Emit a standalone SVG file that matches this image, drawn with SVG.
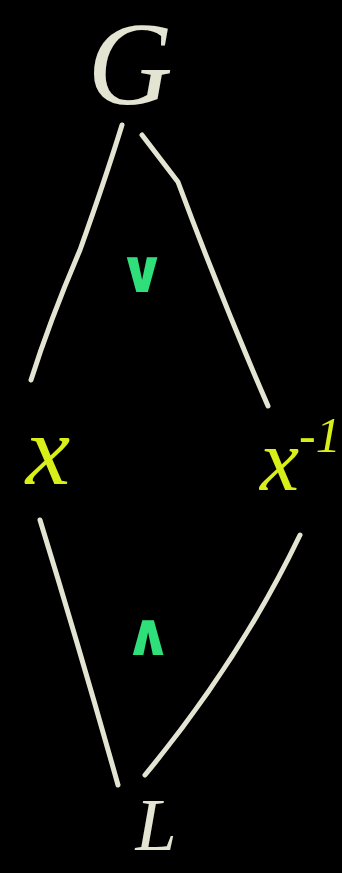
<svg xmlns="http://www.w3.org/2000/svg" width="342" height="873" viewBox="0 0 342 873">
<style>
.edge{fill:none;stroke:#e3e4d2;stroke-width:5;stroke-linecap:round;stroke-linejoin:round}
.lbl{font-family:"Liberation Serif",serif;font-style:italic}
.w{fill:#e3e4d2}
.y{fill:#d8ef1a}
.g{fill:#2fe07a;font-family:"DejaVu Sans",sans-serif;font-weight:bold}
</style>
<rect width="342" height="873" fill="#000"/>
<g id="connectors">
<path class="edge" d="M122,125 Q105,180 80,250 Q50,320 31,380"/>
<path class="edge" d="M142,135 L178,182 Q222,300 268,406"/>
<path class="edge" d="M40,520 Q80,650 118,785"/>
<path class="edge" d="M300,535 Q240,660 145,775"/>
</g>
<g id="G"><text class="lbl w" x="130" y="104" font-size="118" text-anchor="middle">G</text></g>
<g id="x"><text class="lbl y" x="48" y="484" font-size="100" text-anchor="middle">x</text></g>
<g id="xinv"><text class="lbl y" x="260" y="490" font-size="88">x<tspan font-size="50" dy="-38">-1</tspan></text></g>
<g id="L"><text class="lbl w" x="156" y="850" font-size="74" text-anchor="middle">L</text></g>
<g id="join"><text class="g" x="142" y="292" font-size="60" text-anchor="middle">∨</text></g>
<g id="meet"><text class="g" x="148" y="655" font-size="60" text-anchor="middle">∧</text></g>
</svg>
